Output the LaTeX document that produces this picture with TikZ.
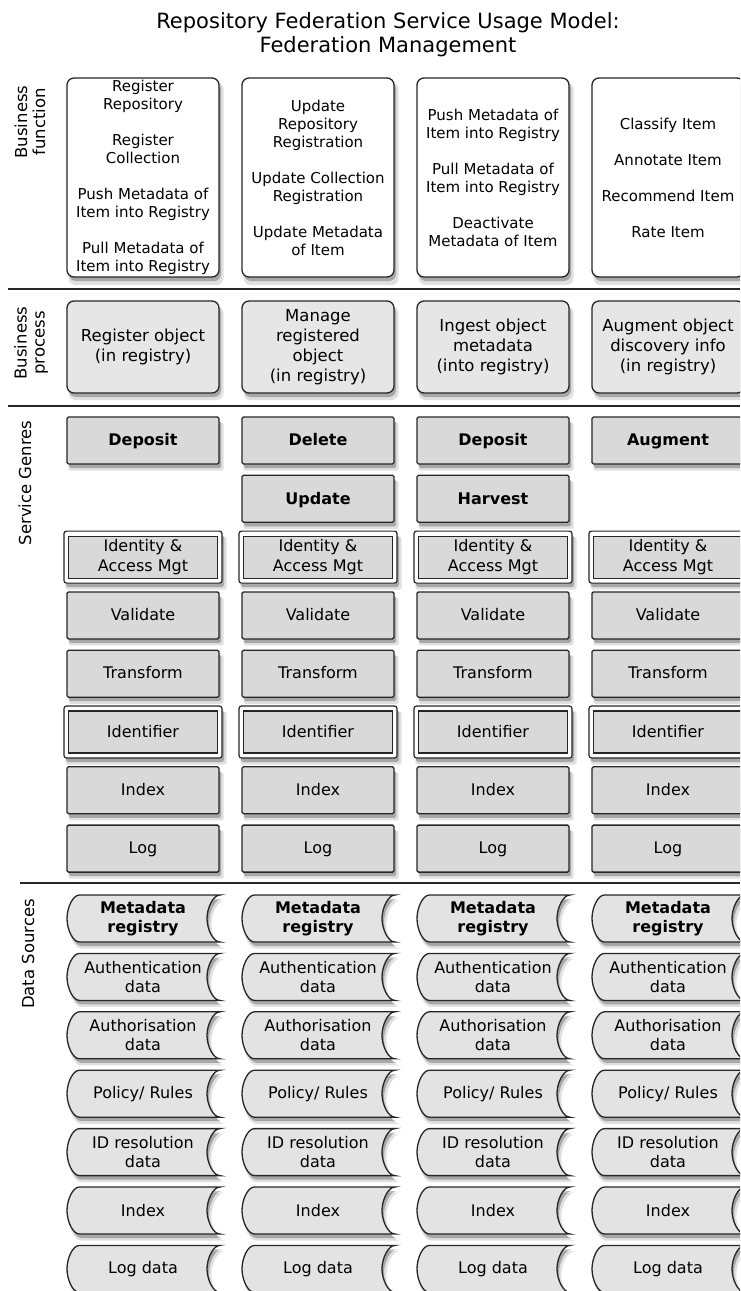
\documentclass[tikz,border=0pt]{standalone}
\usepackage{fontspec}
\setmainfont{DejaVu Sans}
\usetikzlibrary{shadows}
\definecolor{prfill}{HTML}{E6E6E6}
\definecolor{gefill}{HTML}{D9D9D9}
\definecolor{dsfill}{HTML}{E3E3E3}
\definecolor{edgecol}{HTML}{262626}
\begin{document}
\begin{tikzpicture}[x=1pt,y=-1pt,
  shd/.style={drop shadow={shadow xshift=3pt,shadow yshift=-6pt,opacity=0.12,fill=black,shadow scale=1.02},
              drop shadow={shadow xshift=2pt,shadow yshift=-4pt,opacity=0.25,fill=black}},
  fnbox/.style={shd,draw=edgecol,line width=1.3pt,rounded corners=7pt,fill=white,
    minimum width=152pt,minimum height=199pt,inner sep=0pt,align=center,
    font=\fontsize{15}{18}\selectfont},
  prbox/.style={shd,draw=edgecol,line width=1.3pt,rounded corners=7pt,fill=prfill,
    minimum width=152pt,minimum height=92pt,inner sep=0pt,align=center,
    font=\fontsize{16.5}{20}\selectfont},
  genbox/.style={shd,draw=edgecol,line width=1.3pt,rounded corners=1.5pt,fill=gefill,
    minimum width=152pt,minimum height=47pt,inner sep=0pt,align=center,
    font=\fontsize{16}{20}\selectfont},
  oneline/.style={text height=11pt,text depth=0.5pt},
  boldgen/.style={genbox,oneline,font=\fontsize{16}{20}\selectfont\bfseries},
  genouter/.style={shd,draw=edgecol,line width=1.2pt,rounded corners=2.5pt,fill=white,
    minimum width=158pt,minimum height=52pt,inner sep=0pt},
  geninner/.style={draw=edgecol,line width=1.2pt,fill=gefill,
    minimum width=149pt,minimum height=42pt,inner sep=0pt,align=center,
    font=\fontsize{16}{20}\selectfont},
  dsshape/.style={shd,draw=edgecol,line width=1.3pt,fill=dsfill},
  dstext/.style={inner sep=0pt,align=center,font=\fontsize{16}{19}\selectfont},
  sidelabel/.style={rotate=90,align=center,inner sep=0pt,font=\fontsize{16.5}{18}\selectfont},
  secline/.style={draw=edgecol,line width=1.4pt}
]
\clip (0,0) rectangle (740,1291);
\fill[white] (0,0) rectangle (740,1291);

% title
\node[align=center,font=\fontsize{21}{24}\selectfont] (title) at (388,35)
  {Repository Federation Service Usage Model:\\Federation Management};

% side labels
\node[sidelabel] (lbf) at (30,122) {Business\\function};
\node[sidelabel] (lbp) at (31,343) {Business\\process};
\node[sidelabel] (lsg) at (25,483) {Service Genres};
\node[sidelabel] (lds) at (28,954) {Data Sources};

% section lines
\coordinate (s1a) at (8,289);  \coordinate (s1b) at (740,289);
\coordinate (s2a) at (8,406);  \coordinate (s2b) at (740,406);
\coordinate (s3a) at (20,883); \coordinate (s3b) at (740,883);
\draw[secline] (s1a) -- (s1b);
\draw[secline] (s2a) -- (s2b);
\draw[secline] (s3a) -- (s3b);

% business functions
\node[fnbox] (f1) at (143,177.5) {Register\\Repository\\[18pt]Register\\Collection\\[18pt]Push Metadata of\\Item into Registry\\[18pt]Pull Metadata of\\Item into Registry};
\node[fnbox] (f2) at (318,177.5) {Update\\Repository\\Registration\\[18pt]Update Collection\\Registration\\[18pt]Update Metadata\\of Item};
\node[fnbox] (f3) at (493,177.5) {Push Metadata of\\Item into Registry\\[18pt]Pull Metadata of\\Item into Registry\\[18pt]Deactivate\\Metadata of Item};
\node[fnbox] (f4) at (668,177.5) {Classify Item\\[18pt]Annotate Item\\[18pt]Recommend Item\\[18pt]Rate Item};

% business processes
\node[prbox] (p1) at (143,347) {Register object\\(in registry)};
\node[prbox] (p2) at (318,347) {Manage\\registered\\object\\(in registry)};
\node[prbox] (p3) at (493,347) {Ingest object\\metadata\\(into registry)};
\node[prbox] (p4) at (668,347) {Augment object\\discovery info\\(in registry)};

% service genres
\foreach \cx/\txt [count=\c] in {143/Deposit,318/Delete,493/Deposit,668/Augment}
  \node[boldgen] (ga\c) at (\cx,440.5) {\txt};
\node[boldgen] (gb2) at (318,498.8) {Update};
\node[boldgen] (gb3) at (493,498.8) {Harvest};

\newcommand\genrow[3]{%
  \foreach \cx [count=\c] in {143,318,493,668}
    \node[genbox,oneline] (#2\c) at (\cx,#1) {#3};}
\newcommand\dblrow[3]{%
  \foreach \cx [count=\c] in {143,318,493,668}{
    \node[genouter] (#2o\c) at (\cx,#1) {};
    \node[geninner] (#2\c) at (\cx,#1) {#3};}}

\dblrow{557.1}{iam}{Identity \&\\Access Mgt}
\genrow{615.4}{val}{Validate}
\genrow{673.7}{trf}{Transform}
\dblrow{732}{idf}{Identifier}
\genrow{790.3}{idx}{Index}
\genrow{848.6}{log}{Log}

% data sources
\newcommand\dsrow[3]{%
  \foreach \cx [count=\c] in {143.5,318.5,493.5,668.5}{
    \begin{scope}[shift={(\cx,#1)}]
      \path[dsshape] (-64,-23.5) -- (76.5,-23.5)
        .. controls (69.6,-23.5) and (63.5,-10.5) .. (63.5,0)
        .. controls (63.5,10.5) and (69.6,23.5) .. (76.5,23.5)
        -- (-64,23.5)
        .. controls (-70.9,23.5) and (-76.5,10.5) .. (-76.5,0)
        .. controls (-76.5,-10.5) and (-70.9,-23.5) .. (-64,-23.5) -- cycle;
    \end{scope}
    \node[dstext] (#2\c) at (\cx-0.5,#1) {#3};}}

\dsrow{918.5}{dmr}{\textbf{Metadata}\\\textbf{registry}}
\dsrow{976.9}{dau}{Authentication\\data}
\dsrow{1035.3}{daz}{Authorisation\\data}
\dsrow{1093.7}{dpo}{Policy/ Rules}
\dsrow{1152.1}{did}{ID resolution\\data}
\dsrow{1210.5}{dix}{Index}
\dsrow{1268.9}{dlg}{Log data}
\end{tikzpicture}
\end{document}
